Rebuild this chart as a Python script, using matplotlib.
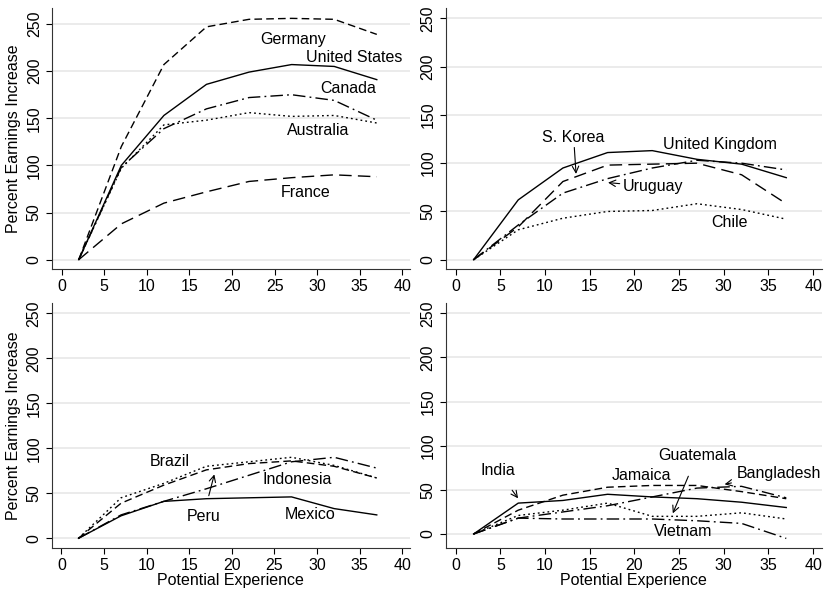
import matplotlib
matplotlib.use("Agg")
import matplotlib.pyplot as plt

plt.rcParams['font.family'] = ['Liberation Sans', 'DejaVu Sans']

experience = [2, 7, 12, 17, 22, 27, 32, 37]

# Panel 1
germany = [0, 120, 207, 247, 255, 256, 255, 239]
united_states = [0, 100, 153, 186, 199, 207, 205, 191]
canada = [0, 98, 139, 160, 172, 175, 169, 148]
australia = [0, 97, 143, 148, 156, 152, 153, 145]
france = [0, 38, 60, 72, 83, 87, 90, 88]

# Panel 2
united_kingdom = [0, 62, 95, 111, 113, 104, 99, 85]
s_korea = [0, 34, 81, 98, 99, 100, 88, 58]
uruguay = [0, 36, 69, 84, 95, 103, 100, 93]
chile = [0, 31, 43, 50, 51, 58, 52, 42]

# Panel 3
mexico = [0, 25, 41, 44, 45, 46, 33, 26]
brazil = [0, 45, 61, 80, 85, 90, 81, 67]
peru = [0, 39, 59, 76, 83, 86, 80, 67]
indonesia = [0, 26, 41, 55, 70, 85, 90, 78]

# Panel 4
india = [0, 35, 38, 45, 42, 40, 36, 30]
jamaica = [0, 27, 44, 53, 55, 55, 48, 40]
bangladesh = [0, 18, 25, 32, 42, 52, 54, 41]
guatemala = [0, 21, 27, 35, 20, 20, 24, 17]
vietnam = [0, 18, 17, 17, 17, 15, 12, -5]

y_ticks = [0, 50, 100, 150, 200, 250]
x_ticks = [0, 5, 10, 15, 20, 25, 30, 35, 40]

SOLID = '-'
DASH = (0, (5.5, 3))
LONGDASH = (0, (9, 4.5))
DOT = (0, (1.3, 2.2))
LDASHDOT = (0, (9, 3, 1.3, 3))

W, H = 824, 590
fig = plt.figure(figsize=(W / 100, H / 100), dpi=100)


def make_ax(left, right, top, bottom, xlim, ylim):
    ax = fig.add_axes([left / W, 1 - bottom / H, (right - left) / W, (bottom - top) / H])
    ax.set_xlim(*xlim)
    ax.set_ylim(*ylim)
    ax.set_xticks(x_ticks)
    ax.set_yticks(y_ticks)
    ax.set_yticklabels([str(v) for v in y_ticks], rotation=90, va='center')
    ax.tick_params(axis='both', direction='out', length=4.3, width=0.8,
                   labelsize=11.5, pad=3, colors='black')
    ax.spines['top'].set_visible(False)
    ax.spines['right'].set_visible(False)
    for s in ('left', 'bottom'):
        ax.spines[s].set_linewidth(0.8)
        ax.spines[s].set_color('#333333')
    ax.grid(axis='y', color='#e6e6e6', linewidth=1.1)
    ax.set_axisbelow(True)
    return ax


LW = 1.0
FS = 11.5
arrow = dict(arrowstyle='->', lw=0.8, color='black', shrinkA=0, shrinkB=0)

# Panel 1
ax1 = make_ax(52, 410, 8, 269.3, (-1.14, 40.9), (-10.2, 267))
ax1.plot(experience, germany, color='black', lw=LW, linestyle=DASH)
ax1.plot(experience, united_states, color='black', lw=LW, linestyle=SOLID)
ax1.plot(experience, canada, color='black', lw=LW, linestyle=LDASHDOT)
ax1.plot(experience, australia, color='black', lw=LW, linestyle=DOT)
ax1.plot(experience, france, color='black', lw=LW, linestyle=LONGDASH)
ax1.text(27.2, 233.7, 'Germany', ha='center', va='center', fontsize=FS)
ax1.text(34.4, 214.6, 'United States', ha='center', va='center', fontsize=FS)
ax1.text(33.7, 181.8, 'Canada', ha='center', va='center', fontsize=FS)
ax1.text(30.1, 136.8, 'Australia', ha='center', va='center', fontsize=FS)
ax1.text(28.7, 71, 'France', ha='center', va='center', fontsize=FS)
ax1.set_ylabel('Percent Earnings Increase', fontsize=FS, labelpad=4)

# Panel 2
ax2 = make_ax(445.7, 822, 8, 269.3, (-1.12, 41.0), (-9.9, 260.7))
ax2.plot(experience, united_kingdom, color='black', lw=LW, linestyle=SOLID)
ax2.plot(experience, s_korea, color='black', lw=LW, linestyle=LONGDASH)
ax2.plot(experience, uruguay, color='black', lw=LW, linestyle=LDASHDOT)
ax2.plot(experience, chile, color='black', lw=LW, linestyle=DOT)
ax2.annotate('S. Korea', xy=(13.47, 88.9), xytext=(13.2, 126.9), ha='center', va='center',
             fontsize=FS, arrowprops=arrow)
ax2.text(29.6, 119, 'United Kingdom', ha='center', va='center', fontsize=FS)
ax2.annotate('Uruguay', xy=(17.05, 79.9), xytext=(22.05, 75.7), ha='center', va='center',
             fontsize=FS, arrowprops=arrow)
ax2.text(30.6, 38.4, 'Chile', ha='center', va='center', fontsize=FS)

# Panel 3
ax3 = make_ax(51.7, 410, 303, 548.3, (-1.14, 40.9), (-11.1, 261.4))
ax3.plot(experience, mexico, color='black', lw=LW, linestyle=SOLID)
ax3.plot(experience, brazil, color='black', lw=LW, linestyle=DOT)
ax3.plot(experience, peru, color='black', lw=LW, linestyle=DASH)
ax3.plot(experience, indonesia, color='black', lw=LW, linestyle=LDASHDOT)
ax3.text(12.67, 85.2, 'Brazil', ha='center', va='center', fontsize=FS)
ax3.text(27.7, 64.8, 'Indonesia', ha='center', va='center', fontsize=FS)
ax3.annotate('Peru', xy=(17.94, 71), xytext=(16.65, 24), ha='center', va='center',
             fontsize=FS, arrowprops=dict(arrow, shrinkA=8))
ax3.text(29.2, 26, 'Mexico', ha='center', va='center', fontsize=FS)
ax3.set_ylabel('Percent Earnings Increase', fontsize=FS, labelpad=4)
ax3.set_xlabel('Potential Experience', fontsize=FS, labelpad=0)

# Panel 4
ax4 = make_ax(445.7, 822, 303, 548.3, (-1.12, 41.0), (-16.2, 261.7))
ax4.plot(experience, india, color='black', lw=LW, linestyle=SOLID)
ax4.plot(experience, jamaica, color='black', lw=LW, linestyle=DASH)
ax4.plot(experience, bangladesh, color='black', lw=LW, linestyle=LDASHDOT)
ax4.plot(experience, guatemala, color='black', lw=LW, linestyle=DOT)
ax4.plot(experience, vietnam, color='black', lw=LW, linestyle=LDASHDOT)
ax4.annotate('India', xy=(6.98, 40.4), xytext=(4.74, 71.4), ha='center', va='center',
             fontsize=FS, arrowprops=dict(arrow, shrinkA=8))
ax4.text(20.8, 66.8, 'Jamaica', ha='center', va='center', fontsize=FS)
ax4.annotate('Guatemala', xy=(24.3, 23.4), xytext=(27.0, 88.7), ha='center', va='center',
             fontsize=FS, arrowprops=dict(arrow, shrinkA=8))
ax4.annotate('Bangladesh', xy=(30.1, 56.3), xytext=(36.2, 68.7), ha='center', va='center',
             fontsize=FS, arrowprops=dict(arrow, shrinkA=2))
ax4.text(25.5, 2.6, 'Vietnam', ha='center', va='center', fontsize=FS)
ax4.set_xlabel('Potential Experience', fontsize=FS, labelpad=0)

fig.savefig('out.png', dpi=100)
